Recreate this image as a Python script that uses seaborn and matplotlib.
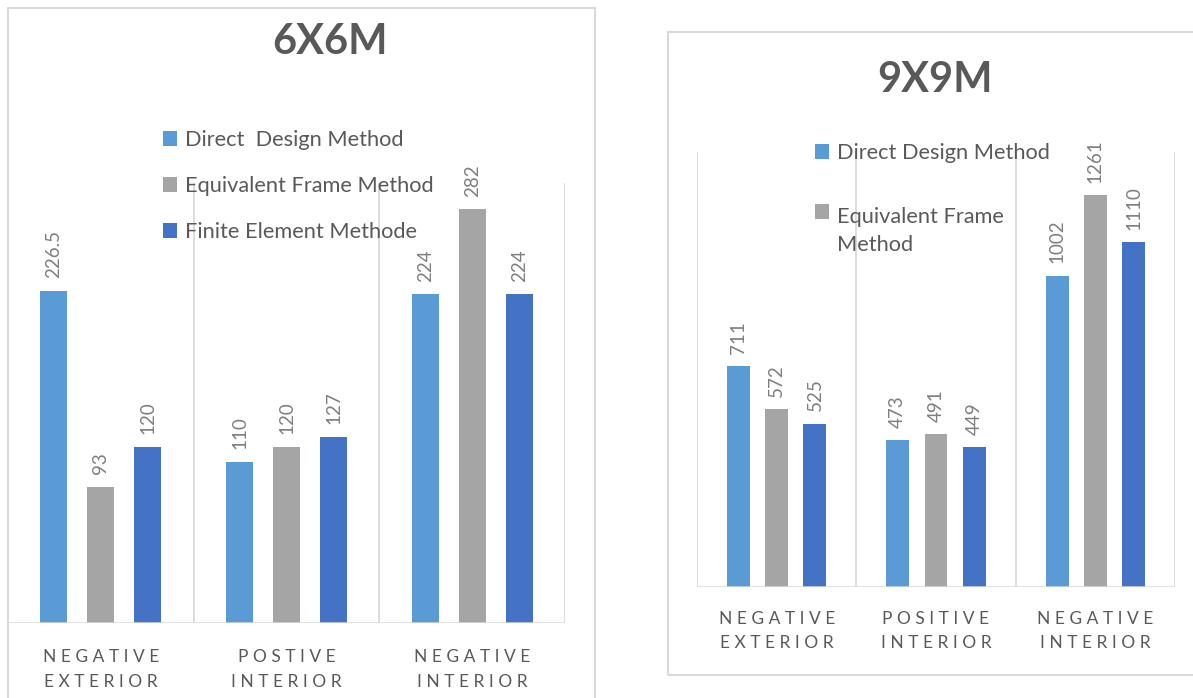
import matplotlib
matplotlib.use('Agg')
import matplotlib.pyplot as plt
from matplotlib.patches import Rectangle
from matplotlib.legend_handler import HandlerPatch
import pandas as pd
import seaborn as sns

locations_6 = ['NEGATIVE\nEXTERIOR', 'POSTIVE\nINTERIOR', 'NEGATIVE\nINTERIOR']
locations_9 = ['NEGATIVE\nEXTERIOR', 'POSITIVE\nINTERIOR', 'NEGATIVE\nINTERIOR']
methods_6 = ['Direct  Design Method', 'Equivalent Frame Method', 'Finite Element Methode']
methods_9 = ['Direct Design Method', 'Equivalent Frame Method', 'Finite Element Methode']
ddm_6 = [226.5, 110, 224]
efm_6 = [93, 120, 282]
fem_6 = [120, 127, 224]
ddm_9 = [711, 473, 1002]
efm_9 = [572, 491, 1261]
fem_9 = [525, 449, 1110]
colors = ['#5B9BD5', '#A5A5A5', '#4472C4']

W, H = 1193, 698
GRID = '#d9d9d9'
TXT = '#595959'

sns.set_style('white')
plt.rcParams['font.family'] = ['Lato', 'DejaVu Sans']


def make_df(locs, methods, series):
    rows = []
    for m, vals in zip(methods, series):
        for loc, v in zip(locs, vals):
            rows.append((loc, m, v))
    return pd.DataFrame(rows, columns=['Location', 'Method', 'Value'])


def spaced(s):
    return '\n'.join(' '.join(line) for line in s.split('\n'))


def px_box(x0, y0, x1, y1):
    # pixel box (top-left origin) -> figure fraction [l, b, w, h]
    return [x0 / W, 1 - y1 / H, (x1 - x0) / W, (y1 - y0) / H]


def draw_panel(ax, df, locs, ymax, width, gap, pad):
    sns.barplot(data=df, x='Location', y='Value', hue='Method', palette=colors,
                saturation=1, width=width, gap=gap, linewidth=0, ax=ax)
    ax.set_ylim(0, ymax)
    ax.set_xlim(-0.5, 2.5)
    for x in [-0.5, 0.5, 1.5, 2.5]:
        ax.axvline(x, color=GRID, lw=1.3, zorder=0)
    ax.axhline(0, color=GRID, lw=1.8, zorder=3)
    sns.despine(ax=ax, left=True, bottom=True)
    ax.set_yticks([])
    ax.set_xlabel('')
    ax.set_ylabel('')
    ax.set_xticks([0, 1, 2])
    ax.set_xticklabels([spaced(l) for l in locs], color=TXT, fontsize=12.5,
                       linespacing=1.63)
    ax.tick_params(axis='x', length=0, pad=pad)
    for c in ax.containers:
        ax.bar_label(c, fmt='%g', rotation=90, padding=9, color='#7f7f7f',
                     fontsize=13.5)
    handles, labels = ax.get_legend_handles_labels()
    ax.get_legend().remove()
    return handles


def top_square(legend, orig_handle, xdescent, ydescent, width, height, fontsize):
    # square sits beside the first line of a wrapped label
    return Rectangle((-xdescent, -ydescent + 14), width, height)


fig = plt.figure(figsize=(W / 100, H / 100), dpi=100)

# panel frames
fig.add_artist(Rectangle((8 / W, -0.02), 587 / W, 1 - 8 / H + 0.02,
                         transform=fig.transFigure, fill=False, ec=GRID, lw=1.5))
fig.add_artist(Rectangle((668 / W, 1 - 675 / H), 0.5, (675 - 32) / H,
                         transform=fig.transFigure, fill=False, ec=GRID, lw=1.5))

ax1 = fig.add_axes(px_box(8, 183, 565, 623))
ax2 = fig.add_axes(px_box(697, 152, 1175, 587))

h1 = draw_panel(ax1, make_df(locations_6, methods_6, [ddm_6, efm_6, fem_6]),
                locations_6, 300, 0.76, 0.43, 19)
h2 = draw_panel(ax2, make_df(locations_9, methods_9, [ddm_9, efm_9, fem_9]),
                locations_9, 1400, 0.72, 0.40, 17)

fig.text(330 / W, 1 - 42 / H, '6X6M', ha='center', va='center',
         fontsize=30, fontweight='bold', color=TXT)
fig.text(935 / W, 1 - 80 / H, '9X9M', ha='center', va='center',
         fontsize=30, fontweight='bold', color=TXT)

leg_kw = dict(loc='upper left', frameon=False, fontsize=15.7, labelcolor=TXT,
              handlelength=0.64, handleheight=0.64, handletextpad=0.35,
              borderpad=0, borderaxespad=0)
fig.legend(h1, methods_6, bbox_to_anchor=(163 / W, 1 - 130 / H),
           labelspacing=1.2, **leg_kw)
leg2 = fig.legend(h2[:2], ['Direct Design Method', 'Equivalent Frame\nMethod'],
                  bbox_to_anchor=(815 / W, 1 - 143 / H), labelspacing=2.0,
                  handler_map={h2[1]: HandlerPatch(patch_func=top_square)},
                  **leg_kw)
for t in leg2.get_texts():
    t.set_linespacing(1.5)

fig.savefig('out.png', dpi=100, facecolor='white')
